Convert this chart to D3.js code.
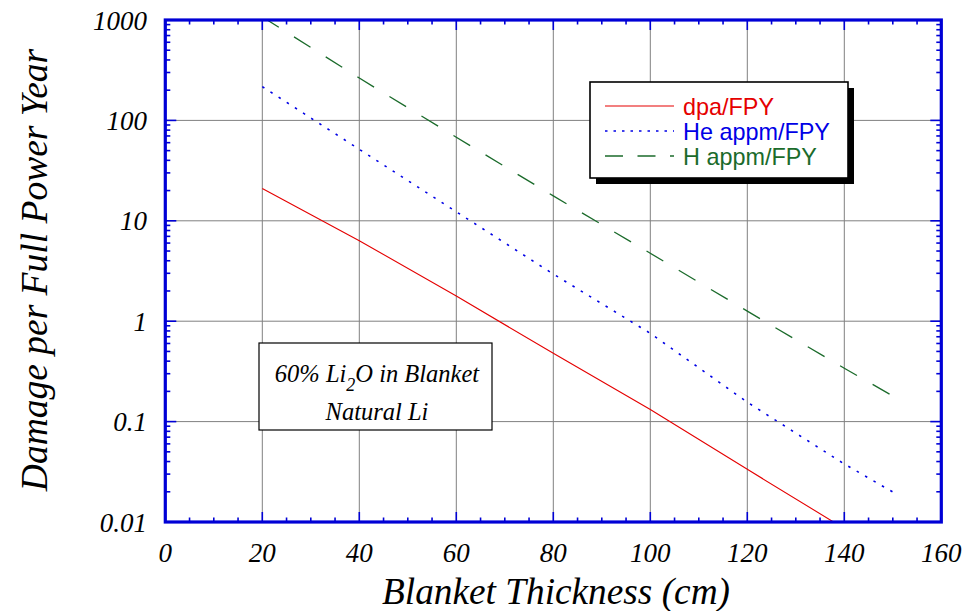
<!DOCTYPE html>
<html>
<head>
<meta charset="utf-8">
<script src="https://cdn.jsdelivr.net/npm/d3@7"></script>
<style>
  html, body { margin: 0; padding: 0; background: #fff; }
  svg { display: block; }
</style>
</head>
<body>
<svg id="chart" width="967" height="611"></svg>
<script>
// ---------------- data ----------------
const thickness = [20, 40, 60, 80, 100, 120, 140, 150];
const dpaFPY   = [21.0, 6.34, 1.78, 0.479, 0.132, 0.0335, 0.0086];
const heFPY    = [217, 51.5, 12.3, 2.95, 0.757, 0.156, 0.0378, 0.0199];
const hFPY     = [1075, 264, 68, 17.7, 4.75, 1.26, 0.34, 0.18];

const xTicks = [0, 20, 40, 60, 80, 100, 120, 140, 160];
const yTicks = [0.01, 0.1, 1, 10, 100, 1000];
const yTickLabels = ["0.01", "0.1", "1", "10", "100", "1000"];

const seriesNames = ["dpa/FPY", "He appm/FPY", "H appm/FPY"];

// ---------------- layout ----------------
const L = 165.3, R = 941.3, T = 20, B = 522;
const frameColor = "#0000d6";
const colors = ["#e50000", "#0000e6", "#1b6b2b"];
const plotDash = [null, "2.5,7.2", "19.5,18"];
const legendDash = [null, "2.5,6", "18,14.5"];
const widths = [1.1, 1.6, 1.3];

const svg = d3.select("#chart");
const x = d3.scaleLinear().domain([0, 160]).range([L, R]);
const y = d3.scaleLog().domain([0.01, 1000]).range([B, T]);

// clip
svg.append("defs").append("clipPath").attr("id", "plotclip")
  .append("rect").attr("x", L).attr("y", T).attr("width", R - L).attr("height", B - T);

// grid
const grid = svg.append("g").attr("stroke", "#808080").attr("stroke-width", 1);
xTicks.filter(d => d > 0 && d < 160).forEach(d => {
  grid.append("line").attr("x1", x(d)).attr("x2", x(d)).attr("y1", T).attr("y2", B);
});
yTicks.filter(d => d > 0.01 && d < 1000).forEach(d => {
  grid.append("line").attr("x1", L).attr("x2", R).attr("y1", y(d)).attr("y2", y(d));
});

// series
const series = [dpaFPY, heFPY, hFPY];
const line = d3.line().x(d => x(d[0])).y(d => y(d[1]));
const gLines = svg.append("g").attr("clip-path", "url(#plotclip)");
series.forEach((vals, i) => {
  const pts = vals.map((v, j) => [thickness[j], v]);
  const p = gLines.append("path").datum(pts)
    .attr("d", line)
    .attr("fill", "none")
    .attr("stroke", colors[i])
    .attr("stroke-width", widths[i]);
  if (plotDash[i]) p.attr("stroke-dasharray", plotDash[i]);
});

// ticks (inward, on all four sides)
const ticks = svg.append("g").attr("stroke", frameColor).attr("stroke-width", 1.6);
const xMinor = d3.range(0, 161, 5);
xMinor.forEach(d => {
  const major = d % 20 === 0;
  const len = major ? 10 : 4.5;
  ticks.append("line").attr("x1", x(d)).attr("x2", x(d)).attr("y1", B).attr("y2", B - len);
  ticks.append("line").attr("x1", x(d)).attr("x2", x(d)).attr("y1", T).attr("y2", T + len);
});
const yAll = [];
for (let e = -2; e < 3; e++) {
  for (let m = 1; m < 10; m++) yAll.push({ v: m * Math.pow(10, e), major: m === 1 });
}
yAll.push({ v: 1000, major: true });
yAll.forEach(t => {
  const len = t.major ? 11 : 5;
  const yy = y(t.v);
  ticks.append("line").attr("x1", L).attr("x2", L + len).attr("y1", yy).attr("y2", yy);
  ticks.append("line").attr("x1", R).attr("x2", R - len).attr("y1", yy).attr("y2", yy);
});

// frame
svg.append("rect").attr("x", L).attr("y", T).attr("width", R - L).attr("height", B - T)
  .attr("fill", "none").attr("stroke", frameColor).attr("stroke-width", 3.2);

// tick labels
const serif = "'Liberation Serif', 'Times New Roman', Times, serif";
const tl = svg.append("g").attr("font-family", serif).attr("font-style", "italic")
  .attr("font-size", 27).attr("fill", "#000");
xTicks.forEach(d => {
  tl.append("text").attr("x", x(d)).attr("y", 562).attr("text-anchor", "middle").text(d);
});
yTicks.forEach((d, i) => {
  tl.append("text").attr("x", 147).attr("y", y(d) + 9.5).attr("text-anchor", "end").text(yTickLabels[i]);
});

// axis titles
svg.append("text").attr("x", 556).attr("y", 604)
  .attr("text-anchor", "middle").attr("font-family", serif).attr("font-style", "italic")
  .attr("font-size", 37.3).text("Blanket Thickness (cm)");
svg.append("text").attr("transform", "translate(47,270) rotate(-90)")
  .attr("text-anchor", "middle").attr("font-family", serif).attr("font-style", "italic")
  .attr("font-size", 37.5).text("Damage per Full Power Year");

// legend
const lg = svg.append("g");
lg.append("rect").attr("x", 596).attr("y", 88).attr("width", 258).attr("height", 96).attr("fill", "#000");
lg.append("rect").attr("x", 590).attr("y", 82).attr("width", 258).attr("height", 96)
  .attr("fill", "#fff").attr("stroke", "#000").attr("stroke-width", 1.6);
const legRows = [106, 131, 156];
seriesNames.forEach((name, i) => {
  const ln = lg.append("line").attr("x1", 605).attr("x2", 674)
    .attr("y1", legRows[i]).attr("y2", legRows[i])
    .attr("stroke", colors[i]).attr("stroke-width", widths[i]);
  if (legendDash[i]) ln.attr("stroke-dasharray", legendDash[i]);
  lg.append("text").attr("x", 683).attr("y", legRows[i] + 8.5)
    .attr("font-family", "'Liberation Sans', Arial, Helvetica, sans-serif")
    .attr("font-size", 23.4).attr("fill", colors[i]).text(name);
});

// annotation box
const an = svg.append("g");
an.append("rect").attr("x", 259).attr("y", 343).attr("width", 233).attr("height", 87)
  .attr("fill", "#fff").attr("stroke", "#000").attr("stroke-width", 1.2);
const t1 = an.append("text").attr("x", 377).attr("y", 382).attr("text-anchor", "middle")
  .attr("font-family", serif).attr("font-style", "italic").attr("font-size", 24.5);
t1.append("tspan").text("60% Li");
t1.append("tspan").attr("dy", 9).attr("font-size", 18).text("2");
t1.append("tspan").attr("dy", -9).text("O in Blanket");
an.append("text").attr("x", 377).attr("y", 420).attr("text-anchor", "middle")
  .attr("font-family", serif).attr("font-style", "italic").attr("font-size", 24.5).text("Natural Li");
</script>
</body>
</html>
